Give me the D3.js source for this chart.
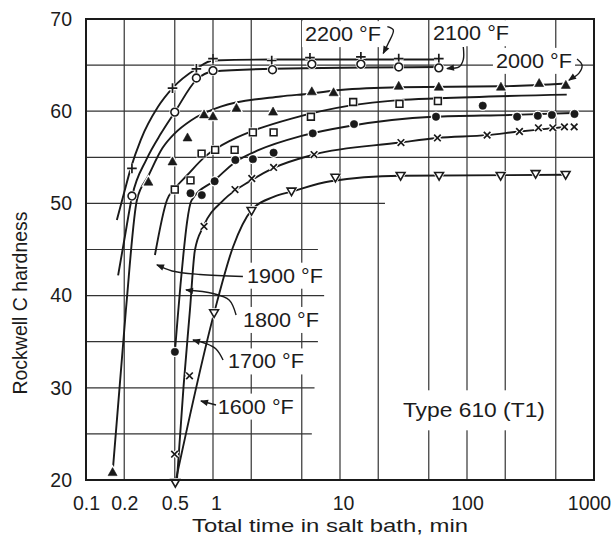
<!DOCTYPE html>
<html><head><meta charset="utf-8">
<script src="https://cdn.jsdelivr.net/npm/d3@7"></script>
<style>
html,body{margin:0;padding:0;background:#fff;}
svg{display:block;}
text{font-family:"Liberation Sans", Arial, Helvetica, sans-serif; fill:#1c1c1c;}
</style></head>
<body><svg id="chart" width="614" height="538"></svg>
<script>
// ---------------- data (time in min, Rockwell C hardness) ----------------
const xTickValues = [0.1, 0.2, 0.5, 1, 10, 100, 1000];
const yTickValues = [20, 30, 40, 50, 60, 70];
const vGridT = [0.2, 0.5, 1, 2, 5, 10, 20, 50, 100, 200, 500];
const hGridFullV = [55, 60, 65];
const hGridPartV = [50, 45, 40, 35, 30, 25];
const hGridPartEndT = [22.6, 6.7, 7.5, 6.7, 6.3, 6.0];

const seriesNames = ["2200 °F", "2100 °F", "2000 °F", "1900 °F", "1800 °F", "1700 °F", "1600 °F"];
const seriesMarkers = ["plus", "circle", "triangle", "square", "dot", "times", "tridown"];

const s2200MarkT = [0.23, 0.48, 0.74, 1.0, 2.9, 5.8, 14.6, 29, 60];
const s2200MarkV = [53.8, 62.5, 64.6, 65.7, 65.5, 65.8, 65.9, 65.7, 65.7];
const s2200LineT = [0.175, 0.2, 0.225, 0.27, 0.37, 0.48, 0.74, 1.0, 2.9, 62];
const s2200LineV = [48.2, 51.2, 53.8, 56.9, 60.5, 62.5, 64.6, 65.5, 65.6, 65.6];

const s2100MarkT = [0.23, 0.50, 0.74, 1.0, 2.94, 6.0, 14.6, 29, 60];
const s2100MarkV = [50.8, 59.9, 63.6, 64.4, 64.5, 65.1, 65.1, 64.8, 64.7];
const s2100LineT = [0.179, 0.2, 0.231, 0.3, 0.39, 0.5, 0.74, 1.0, 3, 60];
const s2100LineV = [42.2, 46.0, 50.8, 54.8, 57.6, 59.9, 63.4, 64.3, 64.6, 64.8];

const s2000MarkT = [0.162, 0.31, 0.48, 0.63, 0.85, 1.0, 1.53, 2.97, 6.0, 8.9, 29, 60, 185, 370, 600];
const s2000MarkV = [20.8, 52.3, 54.5, 57.1, 59.6, 59.4, 60.3, 59.9, 62.1, 62.0, 62.7, 62.6, 62.6, 63.0, 62.8];
const s2000LineT = [0.162, 0.206, 0.252, 0.31, 0.4, 0.5, 0.67, 1.15, 3.4, 5.8, 10, 30, 185, 610];
const s2000LineV = [20.8, 38.4, 50.4, 53.0, 56.0, 57.6, 59.0, 60.5, 61.6, 61.9, 62.3, 62.6, 62.7, 63.0];

const s1900MarkT = [0.5, 0.665, 0.813, 1.04, 1.48, 2.06, 3.0, 5.9, 12.7, 29.4, 59];
const s1900MarkV = [51.5, 52.5, 55.4, 55.8, 55.8, 57.7, 57.7, 59.4, 61.0, 60.8, 61.1];
const s1900LineT = [0.349, 0.435, 0.5, 0.62, 0.87, 1.41, 2.29, 4.15, 11.9, 29, 60, 610];
const s1900LineV = [44.4, 50.4, 51.6, 53.0, 55.1, 56.9, 58.1, 59.2, 60.6, 61.2, 61.4, 61.8];

const s1800MarkT = [0.501, 0.665, 0.816, 1.03, 1.5, 2.06, 3.0, 6.1, 12.9, 57, 133, 248, 361, 466, 702];
const s1800MarkV = [33.9, 51.1, 50.9, 52.4, 54.7, 54.8, 55.5, 57.6, 58.6, 59.4, 60.6, 59.4, 59.5, 59.6, 59.7];
const s1800LineT = [0.501, 0.53, 0.555, 0.585, 0.625, 0.676, 1.03, 1.5, 2.3, 4.9, 11.9, 54, 230, 680];
const s1800LineV = [33.9, 38.0, 41.2, 44.5, 48.0, 50.3, 52.5, 54.5, 55.8, 57.3, 58.4, 59.4, 59.6, 59.8];

const s1700MarkT = [0.498, 0.653, 0.85, 1.49, 2.02, 3.0, 6.25, 30.2, 58.5, 144, 259, 365, 474, 585, 698];
const s1700MarkV = [22.8, 31.3, 47.5, 51.5, 52.7, 53.9, 55.3, 56.6, 57.1, 57.4, 57.8, 58.2, 58.2, 58.3, 58.3];
const s1700LineT = [0.52, 0.586, 0.658, 0.72, 0.84, 1.22, 2.0, 2.95, 6.25, 30, 58, 144, 259, 365, 600];
const s1700LineV = [20.0, 30.1, 38.4, 44.9, 47.5, 50.4, 52.5, 53.8, 55.3, 56.6, 57.1, 57.4, 57.8, 58.0, 58.3];

const s1600MarkT = [0.505, 1.02, 2.01, 4.15, 9.2, 30, 60.3, 184, 347, 598];
const s1600MarkV = [19.7, 38.1, 49.2, 51.3, 52.8, 53.0, 53.0, 53.0, 53.2, 53.1];
const s1600LineT = [0.505, 1.02, 1.44, 2.02, 3.0, 4.2, 8.4, 30, 590];
const s1600LineV = [19.7, 38.1, 45.3, 49.3, 50.7, 51.3, 52.4, 53.0, 53.1];

// label anchors (data coordinates: time, hardness) and leader arrows
const labelT = [5.3, 54, 169, 1.85, 1.72, 1.31, 1.09];
const labelV = [67.6, 67.7, 64.7, 41.4, 36.6, 32.1, 27.2];
const lead2200T = [23.6, 26.3, 24.0, 21.9];   const lead2200V = [69.17, 68.8, 67.36, 66.28];
const lead2100T = [93.5, 93.5, 86.5, 69.6];   const lead2100V = [66.96, 65.6, 64.8, 64.63];
const lead2000T = [735, 805, 762, 635];       const lead2000V = [65.66, 65.0, 64.13, 63.36];
const lead1900T = [1.72, 0.79, 0.476, 0.362]; const lead1900V = [42.07, 42.29, 42.67, 43.32];
const lead1800T = [1.52, 1.34, 1.0, 0.613];   const lead1800V = [37.9, 39.52, 40.23, 40.61];
const lead1700T = [1.2, 1.056, 0.88, 0.696];  const lead1700V = [33.02, 34.21, 34.8, 35.18];
const lead1600T = [1.056, 0.804];             const lead1600V = [28.13, 28.57];

const noteText = "Type 610 (T1)";
const noteT = 31.3, noteV = 26.8;
const xTitle = "Total time in salt bath, min";
const yTitle = "Rockwell C hardness";

// ---------------- build ----------------
const series = [
  {mt:s2200MarkT, mv:s2200MarkV, lt:s2200LineT, lv:s2200LineV, at:lead2200T, av:lead2200V},
  {mt:s2100MarkT, mv:s2100MarkV, lt:s2100LineT, lv:s2100LineV, at:lead2100T, av:lead2100V},
  {mt:s2000MarkT, mv:s2000MarkV, lt:s2000LineT, lv:s2000LineV, at:lead2000T, av:lead2000V},
  {mt:s1900MarkT, mv:s1900MarkV, lt:s1900LineT, lv:s1900LineV, at:lead1900T, av:lead1900V},
  {mt:s1800MarkT, mv:s1800MarkV, lt:s1800LineT, lv:s1800LineV, at:lead1800T, av:lead1800V},
  {mt:s1700MarkT, mv:s1700MarkV, lt:s1700LineT, lv:s1700LineV, at:lead1700T, av:lead1700V},
  {mt:s1600MarkT, mv:s1600MarkV, lt:s1600LineT, lv:s1600LineV, at:lead1600T, av:lead1600V}
].map((s,i)=>Object.assign(s,{name:seriesNames[i], marker:seriesMarkers[i]}));

const INK = "#1a1a1a";
const x = d3.scaleLog().domain([0.1, 1000]).range([86, 594]);
const y = d3.scaleLinear().domain([20, 70]).range([480, 19]);
const svg = d3.select("#chart");

svg.append("defs").append("clipPath").attr("id","plotclip")
  .append("rect").attr("x", x(0.1)).attr("y", y(70)).attr("width", x(1000)-x(0.1)).attr("height", y(20)-y(70));

// grid
const grid = svg.append("g").attr("stroke", "#333").attr("stroke-width", 1.2);
grid.selectAll("line.v").data(vGridT).join("line")
  .attr("x1", d=>x(d)).attr("x2", d=>x(d)).attr("y1", y(70)).attr("y2", y(20));
grid.selectAll("line.hf").data(hGridFullV).join("line").attr("class","hf")
  .attr("x1", x(0.1)).attr("x2", x(1000)).attr("y1", d=>y(d)).attr("y2", d=>y(d));
grid.selectAll("line.hp").data(hGridPartV).join("line").attr("class","hp")
  .attr("x1", x(0.1)).attr("x2", (d,i)=>x(hGridPartEndT[i])).attr("y1", d=>y(d)).attr("y2", d=>y(d));

const bgLayer = svg.append("g");
const textLayer = svg.append("g");

function addLabel(txt, px, py, len, opts={}) {
  const t = textLayer.append("text").attr("x", px).attr("y", py)
    .attr("font-size", opts.size || 19.5).text(txt);
  if (len) t.attr("textLength", len).attr("lengthAdjust", "spacingAndGlyphs");
  const b = t.node().getBBox();
  const pad = opts.pad || [3, 2];
  bgLayer.append("rect").attr("x", b.x - pad[0]).attr("y", b.y - pad[1])
    .attr("width", b.width + 2*pad[0]).attr("height", b.height + 2*pad[1]).attr("fill", "#fff");
  return t;
}

// series lines
const lineGen = d3.line().x(d=>x(d[0])).y(d=>y(d[1])).curve(d3.curveMonotoneX);
const linesG = svg.append("g").attr("clip-path", "url(#plotclip)");
series.forEach(s=>{
  const pts = s.lt.map((t,i)=>[t, s.lv[i]]);
  linesG.append("path").attr("d", lineGen(pts)).attr("fill","none")
    .attr("stroke", INK).attr("stroke-width", 1.9).attr("stroke-linejoin","round");
});

// markers
function markerPath(type){
  switch(type){
    case "plus": return "M-4.8,0H4.8M0,-4.8V4.8";
    case "times": return "M-3.3,-3.3L3.3,3.3M-3.3,3.3L3.3,-3.3";
    case "triangle": return "M0,-5L4.5,3L-4.5,3Z";
    case "tridown": return "M0,4.3L-4.4,-3.3L4.4,-3.3Z";
    case "square": return "M-3.4,-3.4H3.4V3.4H-3.4Z";
    case "circle": return d3.symbol(d3.symbolCircle, Math.PI*3.9*3.9)();
    case "dot": return d3.symbol(d3.symbolCircle, Math.PI*3.7*3.7)();
  }
}
const stroked = {plus:true, times:true};
const hollow = {circle:true, square:true, tridown:true};
const markG = svg.append("g");
series.forEach(s=>{
  const pts = s.mt.map((t,i)=>[t, s.mv[i]]);
  const d = markerPath(s.marker);
  markG.append("g").selectAll("path").data(pts).join("path")
    .attr("d", d).attr("transform", p=>`translate(${x(p[0])},${y(p[1])})`)
    .attr("fill", "#fff").attr("stroke", "#fff").attr("stroke-width", stroked[s.marker] ? 4 : 3);
  const g = markG.append("g").selectAll("path").data(pts).join("path")
    .attr("d", d).attr("transform", p=>`translate(${x(p[0])},${y(p[1])})`);
  if (stroked[s.marker]) g.attr("fill","none").attr("stroke", INK).attr("stroke-width", 1.7);
  else if (hollow[s.marker]) g.attr("fill","#fff").attr("stroke", INK).attr("stroke-width", 1.6);
  else g.attr("fill", INK).attr("stroke", INK).attr("stroke-width", 0.6);
});

// frame
svg.append("rect").attr("x", x(0.1)).attr("y", y(70)).attr("width", x(1000)-x(0.1)).attr("height", y(20)-y(70))
  .attr("fill","none").attr("stroke", INK).attr("stroke-width", 2);

// temperature labels & leaders
series.forEach((s,i)=>{
  addLabel(s.name, x(labelT[i]), y(labelV[i]), 76);
});
const leadGen = d3.line().x(d=>x(d[0])).y(d=>y(d[1])).curve(d3.curveCatmullRom.alpha(0.5));
const leadG = svg.append("g");
series.forEach(s=>{
  const pts = s.at.map((t,i)=>[t, s.av[i]]);
  leadG.append("path").attr("d", leadGen(pts)).attr("fill","none")
    .attr("stroke", INK).attr("stroke-width", 1.4);
  const p1 = pts[pts.length-2], p2 = pts[pts.length-1];
  const x1 = x(p1[0]), y1 = y(p1[1]), x2 = x(p2[0]), y2 = y(p2[1]);
  const ang = Math.atan2(y2-y1, x2-x1)*180/Math.PI;
  leadG.append("path").attr("d","M1,0L-7,-3.2L-7,3.2Z")
    .attr("transform", `translate(${x2},${y2}) rotate(${ang})`).attr("fill", INK);
});

addLabel(noteText, x(noteT), y(noteV), 142, {pad:[5, 9]});

// axes
const yAxis = svg.append("g").attr("transform", `translate(${x(0.1)},0)`)
  .call(d3.axisLeft(y).tickValues(yTickValues).tickSize(0).tickPadding(14).tickFormat(d3.format("d")));
const xAxis = svg.append("g").attr("transform", `translate(0,${y(20)})`)
  .call(d3.axisBottom(x).tickValues(xTickValues).tickSize(0).tickPadding(16).tickFormat(d=>String(d)));
[yAxis, xAxis].forEach(a=>{
  a.select(".domain").remove();
  a.selectAll("text").attr("font-size", 19.5).attr("fill", INK)
    .attr("font-family", '"Liberation Sans", Arial, Helvetica, sans-serif');
});
xAxis.selectAll("text").filter(d=>d===1000).attr("dx", -5);
xAxis.selectAll("text").filter(d=>d===1 || d===10).attr("dx", 3);

// titles
svg.append("text").attr("x", 330).attr("y", 531.5)
  .attr("text-anchor","middle").attr("font-size", 19)
  .attr("textLength", 276).attr("lengthAdjust","spacingAndGlyphs")
  .text(xTitle);
svg.append("text").attr("transform", `translate(27,303) rotate(-90)`)
  .attr("text-anchor","middle").attr("font-size", 19.5).text(yTitle);
</script>
</body></html>
